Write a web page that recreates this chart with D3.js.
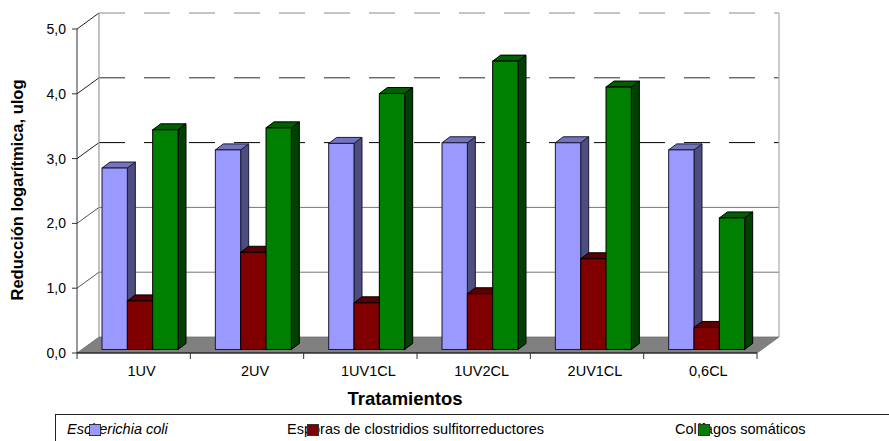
<!DOCTYPE html>
<html>
<head>
<meta charset="utf-8">
<script src="https://cdn.jsdelivr.net/npm/d3@7"></script>
<style>
  html, body { margin: 0; padding: 0; background: #fff; }
  svg { display: block; font-family: "Liberation Sans", Arial, sans-serif; }
</style>
</head>
<body>
<svg id="chart" width="889" height="441"></svg>
<script>
// ---- data ----
const categories = ["1UV", "2UV", "1UV1CL", "1UV2CL", "2UV1CL", "0,6CL"];
const seriesNames = ["Escherichia coli", "Esporas de clostridios sulfitorreductores", "Colífagos somáticos"];
const ecoli     = [2.8, 3.08, 3.18, 3.19, 3.19, 3.08];
const esporas   = [0.75, 1.50, 0.72, 0.86, 1.40, 0.34];
const colifagos = [3.39, 3.42, 3.95, 4.45, 4.05, 2.03];
const yTicks = [0, 1, 2, 3, 4, 5];
const xTitle = "Tratamientos";
const yTitle = "Reducción logarítmica, ulog";

const seriesValues = [ecoli, esporas, colifagos];
const colors = [
  { front: "#9999ff", side: "#4d4d80", top: "#7373bf", stroke: "#1a1a33" },
  { front: "#800000", side: "#400000", top: "#5a0000", stroke: "#000" },
  { front: "#008000", side: "#004000", top: "#006000", stroke: "#000" }
];

// ---- geometry ----
const svg = d3.select("#chart");
svg.append("rect").attr("width", 889).attr("height", 441).attr("fill", "#fff");

const X0 = 77, X1 = 757;
const DX = 22, DY = -16;           // full depth offset of the 3D box
const y = d3.scaleLinear().domain([0, 5]).range([353, 29]);
const x = d3.scaleBand().domain(categories).range([X0, X1]).padding(0);
const barDepthF = 0.22;            // depth position of bar fronts
const barDX = 8, barDY = -6;       // bar's own depth
const groupStart = 0.178;          // fraction of band before first bar
const groupWidth = 76;
const xs = d3.scaleBand().domain(d3.range(seriesNames.length)).range([0, groupWidth]).padding(0);

const fmt = v => v.toFixed(1).replace(".", ",");

// back wall grid lines
const gridStyle = {
  5: { c: "#8a8a8a", dash: "26,19" },
  4: { c: "#2a2a2a", dash: "26,19" },
  3: { c: "#000000", dash: "26,19" },
  2: { c: "#777777", dash: null },
  1: { c: "#777777", dash: null }
};
const g = svg.append("g");
yTicks.filter(v => v > 0).forEach(v => {
  const st = gridStyle[v];
  g.append("line")
    .attr("x1", X0 + DX).attr("x2", X1 + DX)
    .attr("y1", y(v) + DY).attr("y2", y(v) + DY)
    .attr("stroke", st.c).attr("stroke-width", 1)
    .attr("stroke-dasharray", st.dash);
  // side wall line
  g.append("line")
    .attr("x1", X0).attr("y1", y(v))
    .attr("x2", X0 + DX).attr("y2", y(v) + DY)
    .attr("stroke", v >= 3 ? "#222" : "#555").attr("stroke-width", 1);
});
// back wall left & right edges
g.append("line").attr("x1", X0 + DX).attr("x2", X0 + DX)
  .attr("y1", y(5) + DY).attr("y2", y(0) + DY).attr("stroke", "#999").attr("stroke-width", 1.2);
g.append("line").attr("x1", X1 + DX).attr("x2", X1 + DX)
  .attr("y1", y(5) + DY).attr("y2", y(0) + DY).attr("stroke", "#aaa").attr("stroke-width", 1.2);

// floor
g.append("polygon")
  .attr("points", [[X0, y(0)], [X1, y(0)], [X1 + DX, y(0) + DY], [X0 + DX, y(0) + DY]].map(p => p.join(",")).join(" "))
  .attr("fill", "#808080").attr("stroke", "#6e6e6e").attr("stroke-width", 0.8);

// bars
const bars = svg.append("g");
categories.forEach((cat, ci) => {
  seriesValues.forEach((vals, si) => {
    const v = vals[ci];
    const w = xs.bandwidth();
    const bx = x(cat) + groupStart * x.bandwidth() + xs(si) + barDepthF * DX;
    const yb = y(0) + barDepthF * DY;
    const yt = y(v) + barDepthF * DY;
    const c = colors[si];
    const pts = a => a.map(p => p.join(",")).join(" ");
    bars.append("polygon")
      .attr("points", pts([[bx + w, yt], [bx + w + barDX, yt + barDY], [bx + w + barDX, yb + barDY], [bx + w, yb]]))
      .attr("fill", c.side).attr("stroke", c.stroke).attr("stroke-width", 1).attr("stroke-linejoin", "round");
    bars.append("polygon")
      .attr("points", pts([[bx, yt], [bx + barDX, yt + barDY], [bx + w + barDX, yt + barDY], [bx + w, yt]]))
      .attr("fill", c.top).attr("stroke", c.stroke).attr("stroke-width", 1).attr("stroke-linejoin", "round");
    bars.append("rect")
      .attr("x", bx).attr("y", yt).attr("width", w).attr("height", yb - yt)
      .attr("fill", c.front).attr("stroke", c.stroke).attr("stroke-width", 1);
  });
});

// front axes
const ax = svg.append("g");
ax.append("line").attr("x1", X0).attr("x2", X0).attr("y1", y(5)).attr("y2", y(0))
  .attr("stroke", "#333").attr("stroke-width", 1);
ax.append("line").attr("x1", X0).attr("x2", X1).attr("y1", y(0)).attr("y2", y(0))
  .attr("stroke", "#000").attr("stroke-width", 1);
yTicks.forEach(v => {
  ax.append("line").attr("x1", X0 - 5).attr("x2", X0).attr("y1", y(v)).attr("y2", y(v))
    .attr("stroke", "#333");
  ax.append("text").attr("x", X0 - 11).attr("y", y(v)).attr("dy", "0.35em")
    .attr("text-anchor", "end").attr("font-size", 14).attr("fill", "#000").text(fmt(v));
});
const bounds = categories.map(c => x(c)).concat([X1]);
bounds.forEach(b => {
  ax.append("line").attr("x1", b).attr("x2", b).attr("y1", y(0)).attr("y2", y(0) + 6)
    .attr("stroke", "#333");
});
categories.forEach(c => {
  ax.append("text").attr("x", x(c) + x.bandwidth() / 2 + 8).attr("y", 376)
    .attr("text-anchor", "middle").attr("font-size", 14.5).attr("fill", "#000").text(c);
});

// titles
svg.append("text").attr("x", 405).attr("y", 405).attr("text-anchor", "middle")
  .attr("font-size", 18.5).attr("font-weight", "bold").text(xTitle);
svg.append("text").attr("transform", "translate(23,190) rotate(-90)")
  .attr("text-anchor", "middle").attr("font-size", 16.5).attr("font-weight", "bold").text(yTitle);

// legend
const lg = svg.append("g");
lg.append("rect").attr("x", 55.5).attr("y", 414.5).attr("width", 900).attr("height", 60)
  .attr("fill", "#fff").attr("stroke", "#222").attr("stroke-width", 1);
const legendText = [67, 287, 675];
const legendMark = [89, 307, 698];
seriesNames.forEach((name, i) => {
  lg.append("text").attr("x", legendText[i]).attr("y", 434)
    .attr("font-size", 14.5).attr("font-style", i === 0 ? "italic" : "normal").text(name);
  lg.append("rect").attr("x", legendMark[i] + 0.5).attr("y", 424.5).attr("width", 11).attr("height", 11)
    .attr("fill", colors[i].front).attr("stroke", "#333").attr("stroke-width", 1);
});
</script>
</body>
</html>
